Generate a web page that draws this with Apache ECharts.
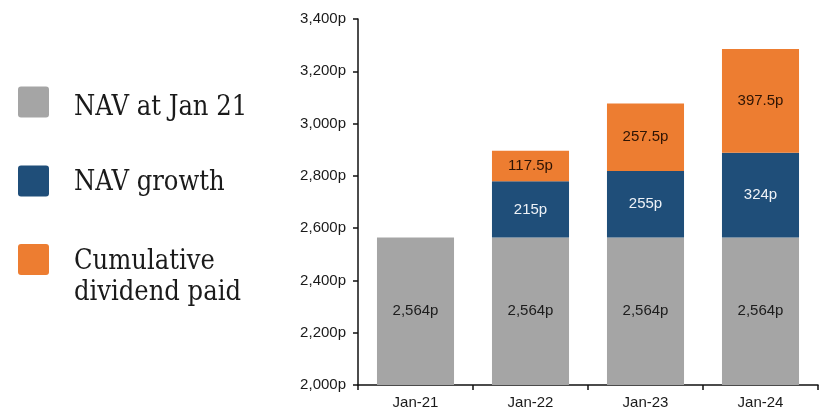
<!DOCTYPE html>
<html>
<head>
<meta charset="utf-8">
<script src="https://cdn.jsdelivr.net/npm/echarts@6/dist/echarts.min.js"></script>
<style>
  html, body { margin: 0; padding: 0; background: #ffffff; }
  #chart { width: 821px; height: 410px; }
</style>
</head>
<body>
<div id="chart"></div>
<script>
// Stacked NAV build-up, in pence per share
const categories = ['Jan-21', 'Jan-22', 'Jan-23', 'Jan-24'];
const navBase = [2564, 2564, 2564, 2564];
const navGrowth = [null, 215, 255, 324];
const cumulativeDividend = [null, 117.5, 257.5, 397.5];
const seriesNames = ['NAV at Jan 21', 'NAV growth', 'Cumulative dividend paid'];
const yTicks = { min: 2000, max: 3400, step: 200 };

const colors = ['#A5A5A5', '#1F4E79', '#ED7D31'];
const labelColors = ['#1c1c1c', '#eef2f7', '#2e1404'];
const axisFont = 'Liberation Sans, Arial, sans-serif';
const legendFont = '"DejaVu Serif Condensed", "DejaVu Serif", serif';

const pence = v => v.toLocaleString('en-US') + 'p';

// rounded square used for the legend swatches
const swatch = 'path://M3,0 H28 A3,3 0 0 1 31,3 V28 A3,3 0 0 1 28,31 H3 A3,3 0 0 1 0,28 V3 A3,3 0 0 1 3,0 Z';

function makeSeries(i, data) {
  return {
    name: seriesNames[i],
    type: 'bar',
    stack: 'nav',
    barWidth: '67%',
    data: data,
    itemStyle: { color: colors[i] },
    label: {
      show: true,
      position: 'inside',
      color: labelColors[i],
      fontFamily: axisFont,
      fontSize: 15,
      formatter: p => pence(p.value)
    },
    emphasis: { disabled: true }
  };
}

// Each legend entry gets a small spacer line above its text so the first
// text line sits level with the swatch.
function makeLegend(i, top, spacer) {
  return {
    data: [seriesNames[i]],
    orient: 'vertical',
    left: 18,
    top: top,
    padding: 0,
    icon: swatch,
    itemWidth: 31,
    itemHeight: 31,
    selectedMode: false,
    formatter: name => {
      const lines = name === 'Cumulative dividend paid' ? ['Cumulative', 'dividend paid'] : [name];
      return '{s|\u00a0}\n' + lines.map(l => '{t|' + l + '}').join('\n');
    },
    textStyle: {
      fontFamily: legendFont,
      fontSize: 27,
      color: '#1a1a1a',
      padding: [0, 0, 0, 20],
      rich: {
        s: { fontSize: 1, lineHeight: spacer },
        t: { fontFamily: legendFont, fontSize: 27, lineHeight: 31, color: '#1a1a1a' }
      }
    }
  };
}

const chart = echarts.init(document.getElementById('chart'), null, { renderer: 'canvas' });

chart.setOption({
  animation: false,
  backgroundColor: '#ffffff',
  legend: [
    makeLegend(0, 86, 12),
    makeLegend(1, 165, 4),
    makeLegend(2, 228, 35)
  ],
  grid: { left: 358, right: 3, top: 19, bottom: 24 },
  xAxis: {
    type: 'category',
    data: categories,
    axisLine: { lineStyle: { color: '#111', width: 1.5 } },
    axisTick: { show: true, length: 5, lineStyle: { color: '#111', width: 1.5 } },
    axisLabel: { color: '#1a1a1a', fontFamily: axisFont, fontSize: 15, margin: 10 }
  },
  yAxis: {
    type: 'value',
    min: yTicks.min,
    max: yTicks.max,
    interval: yTicks.step,
    splitLine: { show: false },
    axisLine: { show: true, lineStyle: { color: '#111', width: 1.5 } },
    axisTick: { show: true, length: 5, lineStyle: { color: '#111', width: 1.5 } },
    axisLabel: { color: '#1a1a1a', fontFamily: axisFont, fontSize: 15, margin: 12, formatter: v => pence(v) }
  },
  series: [
    makeSeries(0, navBase),
    makeSeries(1, navGrowth),
    makeSeries(2, cumulativeDividend)
  ]
});
</script>
</body>
</html>
